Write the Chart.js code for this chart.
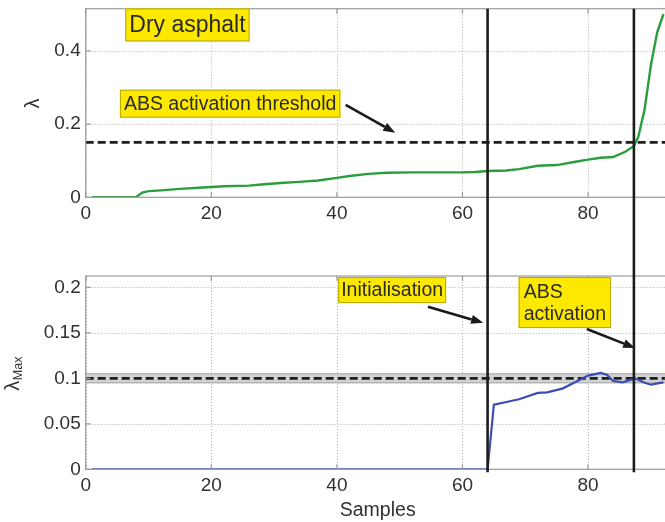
<!DOCTYPE html>
<html><head><meta charset="utf-8">
<script src="https://cdn.jsdelivr.net/npm/chart.js@4.4.1/dist/chart.umd.min.js"></script>
<style>
html,body{margin:0;padding:0;background:#fff;}
#wrap{position:relative;width:665px;height:522px;overflow:hidden;background:#fff;}
canvas{position:absolute;left:0;top:0;}
</style></head><body>
<div id="wrap"><canvas id="topC" width="672" height="522"></canvas><canvas id="botC" width="672" height="522"></canvas></div>
<script>
// ---------- data ----------
const xTicks = [0, 20, 40, 60, 80];
const xTickLabels = ['0', '20', '40', '60', '80'];
const topYTicks = [0, 0.2, 0.4];
const topYTickLabels = ['0', '0.2', '0.4'];
const botYTicks = [0, 0.05, 0.1, 0.15, 0.2];
const botYTickLabels = ['0', '0.05', '0.1', '0.15', '0.2'];

const greenX = [1, 8, 9, 10, 12, 15, 18, 20, 22, 26, 28, 31, 34, 37, 40, 42, 45, 48, 52, 56, 60, 62, 64, 67, 69, 72, 75, 78, 80, 82, 84, 86, 87.3, 88, 89, 90, 91, 92];
const greenY = [0, 0, 0.013, 0.017, 0.019, 0.023, 0.026, 0.028, 0.030, 0.032, 0.035, 0.039, 0.042, 0.046, 0.053, 0.058, 0.064, 0.067, 0.068, 0.068, 0.068, 0.069, 0.072, 0.073, 0.077, 0.086, 0.088, 0.097, 0.103, 0.108, 0.110, 0.125, 0.140, 0.165, 0.240, 0.360, 0.450, 0.500];

const blueX = [1, 64, 65, 67, 69, 72, 73.5, 76, 78, 80, 82, 83, 84, 85.5, 87.5, 88.8, 90, 92];
const blueY = [0, 0, 0.071, 0.074, 0.077, 0.084, 0.0846, 0.089, 0.096, 0.103, 0.106, 0.104, 0.097, 0.0956, 0.100, 0.0956, 0.093, 0.0956];

const thresholdValue = 0.15;
const lambdaMaxRef = 0.1;
const bandLow = 0.095, bandHigh = 0.105;
const eventX = [64, 87.3];
const xMax = 93, topYMax = 0.515, botYMax = 0.2125;

// ---------- styles / layout ----------
const FONT = '"Liberation Sans", Arial, Helvetica, sans-serif';
const TXT = '#303030';
const Y_AXIS_W = 85.7;
Chart.defaults.font.family = FONT;
Chart.defaults.font.size = 19;
Chart.defaults.color = TXT;

const annotations = {
  top: {
    boxes: [
      {lines: ['Dry asphalt'], x: 16.2, y: 0.4707, size: 23, padX: 4, h: 33},
      {lines: ['ABS activation threshold'], x: 23.0, y: 0.2556, size: 19.5, padX: 4, h: 28}
    ],
    arrows: [{x1: 41.4, y1: 0.2523, x2: 49.3, y2: 0.1762}]
  },
  bot: {
    boxes: [
      {lines: ['Initialisation'], x: 48.8, y: 0.197, size: 19.5, padX: 3, h: 26},
      {lines: ['ABS', 'activation'], x: 76.3, y: 0.1833, size: 19.5, padX: 5, h: 51, align: 'left', lh: 22}
    ],
    arrows: [
      {x1: 54.5, y1: 0.1787, x2: 63.3, y2: 0.1611},
      {x1: 79.8, y1: 0.1542, x2: 87.5, y2: 0.1333}
    ]
  }
};

function pts(xs, ys) { return xs.map((x, i) => ({x, y: ys[i]})); }
function hline(v) { return [{x: 0, y: v}, {x: xMax, y: v}]; }

function makeX(h, title) {
  return {
    type: 'linear', min: 0, max: xMax,
    afterBuildTicks: s => { s.ticks = xTicks.map(v => ({value: v})); },
    afterFit: s => { s.height = h; s.paddingLeft = 0; s.paddingRight = 0; },
    grid: {display: false, drawTicks: false}, border: {display: false},
    ticks: {padding: 5, color: TXT, font: {size: 19}, maxRotation: 0, autoSkip: false,
      callback: (v, i) => xTickLabels[i]},
    title: title ? {display: true, text: title, color: TXT, font: {size: 19.5}, padding: {top: 0, bottom: 0}, align: 'center'} : {display: false}
  };
}
function makeY(max, vals, labels) {
  return {
    type: 'linear', min: 0, max: max,
    afterBuildTicks: s => { s.ticks = vals.map(v => ({value: v})); },
    afterFit: s => { s.width = Y_AXIS_W; s.paddingTop = 0; s.paddingBottom = 0; },
    grid: {display: false, drawTicks: false}, border: {display: false},
    ticks: {padding: 5, color: TXT, font: {size: 19}, autoSkip: false, callback: (v, i) => labels[i]}
  };
}

const framePlugin = {
  id: 'frame',
  beforeDatasetsDraw(c) {
    const {ctx, chartArea: a, scales: {x, y}} = c;
    ctx.save();
    ctx.strokeStyle = '#b2b2b2'; ctx.lineWidth = 1; ctx.setLineDash([1, 2]);
    x.ticks.forEach(t => {
      const px = Math.round(x.getPixelForValue(t.value)) + 0.5;
      ctx.beginPath(); ctx.moveTo(px, a.top); ctx.lineTo(px, a.bottom); ctx.stroke();
    });
    y.ticks.forEach(t => {
      const py = Math.round(y.getPixelForValue(t.value)) + 0.5;
      ctx.beginPath(); ctx.moveTo(a.left, py); ctx.lineTo(a.right, py); ctx.stroke();
    });
    ctx.restore();
  },
  afterDatasetsDraw(c) {
    const {ctx, chartArea: a, scales: {x, y}} = c;
    ctx.save();
    ctx.strokeStyle = '#9c9c9c'; ctx.lineWidth = 1.2; ctx.setLineDash([]);
    ctx.strokeRect(a.left, a.top, a.right - a.left, a.bottom - a.top);
    const L = 5;
    ctx.beginPath();
    x.ticks.forEach(t => {
      const px = x.getPixelForValue(t.value);
      ctx.moveTo(px, a.bottom); ctx.lineTo(px, a.bottom - L);
      ctx.moveTo(px, a.top); ctx.lineTo(px, a.top + L);
    });
    y.ticks.forEach(t => {
      const py = y.getPixelForValue(t.value);
      ctx.moveTo(a.left, py); ctx.lineTo(a.left + L, py);
      ctx.moveTo(a.right, py); ctx.lineTo(a.right - L, py);
    });
    ctx.stroke();
    ctx.restore();
  }
};

function drawArrow(ctx, x1, y1, x2, y2) {
  const ang = Math.atan2(y2 - y1, x2 - x1);
  const len = 12, hw = 4.5;
  const bx = x2 - len * Math.cos(ang), by = y2 - len * Math.sin(ang);
  ctx.beginPath(); ctx.moveTo(x1, y1); ctx.lineTo(bx, by); ctx.stroke();
  ctx.beginPath();
  ctx.moveTo(x2, y2);
  ctx.lineTo(bx + hw * Math.sin(ang), by - hw * Math.cos(ang));
  ctx.lineTo(bx - hw * Math.sin(ang), by + hw * Math.cos(ang));
  ctx.closePath(); ctx.fill();
}

function annPlugin(key) {
  return {
    id: 'ann_' + key,
    afterDraw(c) {
      const {ctx, scales: {x, y}} = c;
      const A = annotations[key];
      ctx.save();
      A.boxes.forEach(b => {
        ctx.font = b.size + 'px ' + FONT;
        const w = Math.max(...b.lines.map(l => ctx.measureText(l).width)) + 2 * b.padX;
        const cx = x.getPixelForValue(b.x), cy = y.getPixelForValue(b.y);
        const left = cx - w / 2, top = cy - b.h / 2;
        ctx.fillStyle = '#fde800';
        ctx.fillRect(left, top, w, b.h);
        ctx.strokeStyle = '#b8a800'; ctx.lineWidth = 1;
        ctx.strokeRect(left + 0.5, top + 0.5, w - 1, b.h - 1);
        ctx.fillStyle = '#2a2a2a';
        ctx.textBaseline = 'middle';
        const lh = b.lh || b.size;
        const n = b.lines.length;
        b.lines.forEach((l, i) => {
          const ly = cy + (i - (n - 1) / 2) * lh + 1;
          if (b.align === 'left') { ctx.textAlign = 'left'; ctx.fillText(l, left + b.padX, ly); }
          else { ctx.textAlign = 'center'; ctx.fillText(l, cx, ly); }
        });
      });
      ctx.strokeStyle = '#1a1a1a'; ctx.fillStyle = '#1a1a1a'; ctx.lineWidth = 2.6;
      A.arrows.forEach(ar => {
        drawArrow(ctx, x.getPixelForValue(ar.x1), y.getPixelForValue(ar.y1), x.getPixelForValue(ar.x2), y.getPixelForValue(ar.y2));
      });
      ctx.restore();
    }
  };
}

function yTitlePlugin(key) {
  return {
    id: 'ytitle_' + key,
    afterDraw(c) {
      const ctx = c.ctx, a = c.chartArea;
      ctx.save();
      ctx.fillStyle = TXT;
      ctx.textAlign = 'left'; ctx.textBaseline = 'alphabetic';
      if (key === 'top') {
        const cy = (a.top + a.bottom) / 2;
        ctx.translate(38.5, cy + 5.5);
        ctx.rotate(-Math.PI / 2);
        ctx.font = '20px ' + FONT;
        ctx.fillText('λ', 0, 0);
      } else {
        const cy = (a.top + a.bottom) / 2;
        ctx.translate(18.5, cy + 18);
        ctx.rotate(-Math.PI / 2);
        ctx.font = '20px ' + FONT;
        ctx.fillText('λ', 0, 0);
        const w = ctx.measureText('λ').width;
        ctx.font = '12.5px ' + FONT;
        ctx.fillText('Max', w + 0.5, 3);
      }
      ctx.restore();
    }
  };
}

const topChart = new Chart(document.getElementById('topC'), {
  type: 'line',
  data: {datasets: [
    {data: pts(greenX, greenY), borderColor: '#2a9e3c', borderWidth: 2.4, pointRadius: 0, tension: 0, fill: false},
    {data: hline(thresholdValue), borderColor: '#1e1e1e', borderWidth: 2.6, borderDash: [8, 4], pointRadius: 0, fill: false}
  ]},
  options: {
    responsive: false, animation: false, events: [],
    layout: {padding: {left: 0, right: 2.3, top: 8.7, bottom: 292}},
    plugins: {legend: {display: false}, tooltip: {enabled: false}, title: {display: false}},
    scales: {x: makeX(32.7, null), y: makeY(topYMax, topYTicks, topYTickLabels)}
  },
  plugins: [framePlugin, annPlugin('top'), yTitlePlugin('top')]
});

const eventLinesPlugin = {
  id: 'events',
  afterDraw(c) {
    const {ctx, chartArea: a, scales: {x}} = c;
    const top = topChart.chartArea.top;
    ctx.save();
    ctx.strokeStyle = '#1c1c1c'; ctx.lineWidth = 2.6;
    eventX.forEach(v => {
      const px = x.getPixelForValue(v);
      ctx.beginPath(); ctx.moveTo(px, top); ctx.lineTo(px, a.bottom + 3); ctx.stroke();
    });
    ctx.restore();
  }
};

const botChart = new Chart(document.getElementById('botC'), {
  type: 'line',
  data: {datasets: [
    {data: pts(blueX, blueY), borderColor: '#3a4db6', borderWidth: 2.2, pointRadius: 0, tension: 0, fill: false},
    {data: hline(lambdaMaxRef), borderColor: '#1e1e1e', borderWidth: 2.6, borderDash: [8, 4], pointRadius: 0, fill: false},
    {data: hline(bandLow), borderColor: '#a4a4a4', borderWidth: 1, pointRadius: 0, fill: false},
    {data: hline(bandHigh), borderColor: '#a4a4a4', borderWidth: 1, pointRadius: 0, fill: '-1', backgroundColor: '#d2d2d2'}
  ]},
  options: {
    responsive: false, animation: false, events: [],
    layout: {padding: {left: 0, right: 2.3, top: 276, bottom: 0}},
    plugins: {legend: {display: false}, tooltip: {enabled: false}, title: {display: false}},
    scales: {x: makeX(52.7, 'Samples'), y: makeY(botYMax, botYTicks, botYTickLabels)}
  },
  plugins: [framePlugin, annPlugin('bot'), yTitlePlugin('bot'), eventLinesPlugin]
});
</script>
</body></html>
